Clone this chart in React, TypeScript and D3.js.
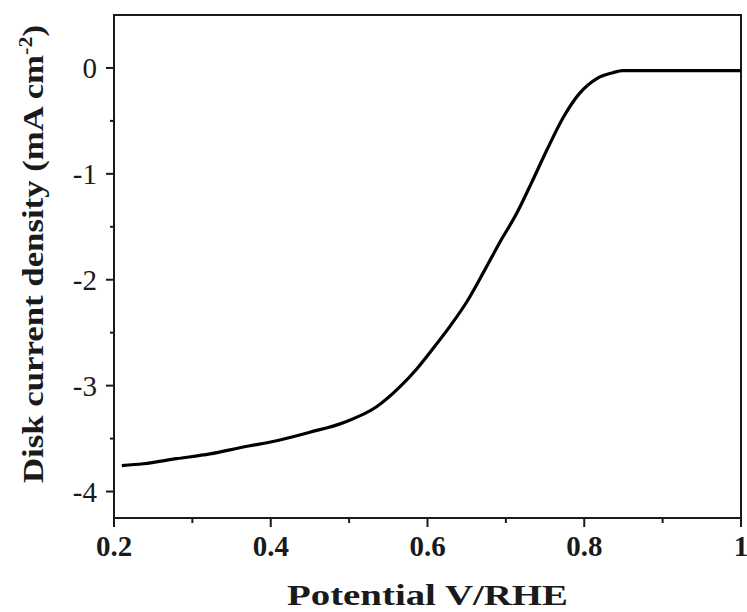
import React from "react";
import * as d3 from "d3";

const potential = [0.21, 0.2374, 0.28, 0.3224, 0.365, 0.4075, 0.45, 0.4925, 0.535, 0.565, 0.5865, 0.607, 0.6286, 0.65, 0.6707, 0.692, 0.714, 0.733, 0.752, 0.773, 0.794, 0.816, 0.8365, 0.849, 0.87, 0.92, 1.0];
const current = [-3.755, -3.738, -3.69, -3.645, -3.58, -3.52, -3.44, -3.35, -3.2, -3.01, -2.84, -2.65, -2.44, -2.21, -1.94, -1.65, -1.37, -1.08, -0.78, -0.47, -0.24, -0.1, -0.045, -0.025, -0.025, -0.025, -0.025];
const xMajor = [0.2, 0.4, 0.6, 0.8, 1.0];
const xMinor = [0.3, 0.5, 0.7, 0.9];
const yMajor = [0, -1, -2, -3, -4];
const yMinor = [-0.5, -1.5, -2.5, -3.5];

const W = 747, H = 612;
const L = 114, R = 741, T = 15, B = 518;

export default function App() {
  const x = d3.scaleLinear().domain([0.2, 1.0]).range([L, R]);
  const y = d3.scaleLinear().domain([-4.25, 0.5]).range([B, T]);
  const pts = potential.map((p, i) => [p, current[i]] as [number, number]);
  const line = d3.line<[number, number]>().x(d => x(d[0])).y(d => y(d[1])).curve(d3.curveMonotoneX);
  const font = "'Liberation Serif', 'Times New Roman', serif";
  const col = "#1a1a1a";
  return (
    <svg width={W} height={H} style={{ position: "absolute", left: 0, top: 0, background: "#fff" }} fontFamily={font}>
      <rect x={L} y={T} width={R - L} height={B - T} fill="none" stroke={col} strokeWidth={2} />
      {xMajor.map(v => (
        <g key={"xm" + v}>
          <line x1={x(v)} x2={x(v)} y1={B} y2={B + 9} stroke={col} strokeWidth={2} />
          <text x={x(v)} y={B + 38} textAnchor="middle" fontSize={29} fontWeight="bold" fill={col}>{d3.format("~g")(v)}</text>
        </g>
      ))}
      {xMinor.map(v => (
        <line key={"xn" + v} x1={x(v)} x2={x(v)} y1={B} y2={B + 5} stroke={col} strokeWidth={2} />
      ))}
      {yMajor.map(v => (
        <g key={"ym" + v}>
          <line x1={L - 8} x2={L} y1={y(v)} y2={y(v)} stroke={col} strokeWidth={2} />
          <text x={L - 17} y={y(v)} dy="0.35em" textAnchor="end" fontSize={29} fill={col}>{v === 0 ? "0" : "-" + Math.abs(v)}</text>
        </g>
      ))}
      {yMinor.map(v => (
        <line key={"yn" + v} x1={L - 4} x2={L} y1={y(v)} y2={y(v)} stroke={col} strokeWidth={2} />
      ))}
      <path d={line(pts) || ""} fill="none" stroke="#000" strokeWidth={3.2} strokeLinejoin="round" />
      <text x={(L + R) / 2} y={605} textAnchor="middle" fontSize={30} fontWeight="bold" fill={col}
        textLength={281} lengthAdjust="spacingAndGlyphs">Potential V/RHE</text>
      <text transform={`translate(43, 254) rotate(-90)`} textAnchor="middle" fontSize={30} fontWeight="bold" fill={col}
        textLength={458} lengthAdjust="spacingAndGlyphs">
        Disk current density (mA cm<tspan dy="-11" fontSize={19}>-2</tspan><tspan dy="11">)</tspan>
      </text>
    </svg>
  );
}
